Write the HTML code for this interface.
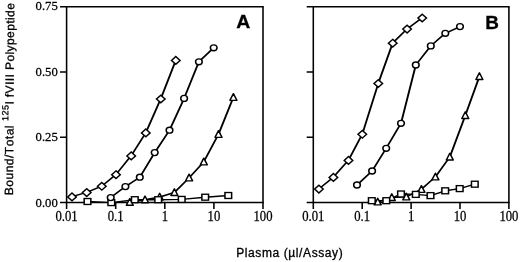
<!DOCTYPE html>
<html><head><meta charset="utf-8"><style>
html,body{margin:0;padding:0;background:#fff;}
body{width:520px;height:262px;overflow:hidden;font-family:"Liberation Sans",sans-serif;}
svg{display:block;will-change:transform;}
text{font-kerning:none;}
</style></head><body>
<svg width="520" height="262" viewBox="0 0 520 262">
<rect width="520" height="262" fill="#fff"/>
<g transform="scale(1.35,1)"><g fill="none" stroke="#000" stroke-width="1.2" stroke-linecap="butt">
<path stroke-width="1.35" d="M44.444 6.7H195.37M44.444 202.5H195.37M44.444 72.0H49.333M44.444 137.2H49.333"/><path stroke-width="1.15" d="M49.333 6.7V209.0M194.815 6.7V209.0M85.704 202.5V209.0M122.074 202.5V209.0M158.444 202.5V209.0"/>
<path stroke-width="1.35" d="M227.185 6.7H377.519M227.185 202.5H377.519M227.185 72.0H232.074M227.185 137.2H232.074"/><path stroke-width="1.15" d="M232.074 6.7V209.0M376.963 6.7V209.0M268.296 202.5V209.0M304.519 202.5V209.0M340.741 202.5V209.0"/>
</g>
<g fill="none" stroke="#000" stroke-width="1.4" stroke-linejoin="round">
<polyline points="96.148,202.2 107.407,199.7 118.296,197 129.185,192.5 140.074,177.8 150.963,161.8 161.852,134.3 172.889,97.3"/>
<polyline points="64.815,201.5 82.444,202.6 99.852,199.7 117.185,199.7 134.593,199.4 152.0,197.2 169.111,195.5"/>
<polyline points="82.0,197.6 92.889,186.6 103.556,177.2 114.593,152.6 125.556,130.2 136.37,98.4 147.333,61.8 158.296,47.8"/>
<polyline points="53.333,196.7 64.222,192.4 75.407,186.1 85.926,174.5 97.185,155.7 108.0,132.7 119.111,98.8 130.222,60.2"/>
<polyline points="279.778,201.9 290.222,197.5 300.963,196.9 312.148,189.3 322.519,176.9 333.185,157 344.667,115.5 355.111,76.5"/>
<polyline points="275.407,200.7 286.148,200.7 297.037,194 308.0,194.4 318.889,195.6 329.778,190.8 340.519,188.6 351.704,184.2"/>
<polyline points="264.444,185 275.63,171 286.074,148.3 297.037,123.3 308.0,65 319.111,45.9 329.852,33.3 340.741,26.6"/>
<polyline points="236.222,188.9 246.963,177.2 258.148,160.2 268.37,134.1 280.222,83.3 290.889,43 301.556,28.9 312.741,17.8"/>
</g>
</g><g transform="scale(1.12,1)"><g fill="#fff" stroke="#000" stroke-width="1.35" stroke-linejoin="miter">
<path stroke-linejoin="round" d="M115.893 198.5L118.993 205.2L112.793 205.2Z"/>
<path stroke-linejoin="round" d="M129.464 196.0L132.564 202.7L126.364 202.7Z"/>
<path stroke-linejoin="round" d="M142.589 193.3L145.689 200.0L139.489 200.0Z"/>
<path stroke-linejoin="round" d="M155.714 188.8L158.814 195.5L152.614 195.5Z"/>
<path stroke-linejoin="round" d="M168.839 174.10000000000002L171.939 180.8L165.739 180.8Z"/>
<path stroke-linejoin="round" d="M181.964 158.10000000000002L185.064 164.8L178.864 164.8Z"/>
<path stroke-linejoin="round" d="M195.089 130.60000000000002L198.189 137.3L191.989 137.3Z"/>
<path stroke-linejoin="round" d="M208.393 93.6L211.493 100.3L205.293 100.3Z"/>
<rect x="75.155" y="198.53" width="5.94" height="5.94"/>
<rect x="96.405" y="199.63" width="5.94" height="5.94"/>
<rect x="117.387" y="196.73" width="5.94" height="5.94"/>
<rect x="138.28" y="196.73" width="5.94" height="5.94"/>
<rect x="159.262" y="196.43" width="5.94" height="5.94"/>
<rect x="180.244" y="194.23" width="5.94" height="5.94"/>
<rect x="200.869" y="192.53" width="5.94" height="5.94"/>
<circle cx="98.839" cy="197.6" r="2.97"/>
<circle cx="111.964" cy="186.6" r="2.97"/>
<circle cx="124.821" cy="177.2" r="2.97"/>
<circle cx="138.125" cy="152.6" r="2.97"/>
<circle cx="151.339" cy="130.2" r="2.97"/>
<circle cx="164.375" cy="98.4" r="2.97"/>
<circle cx="177.589" cy="61.8" r="2.97"/>
<circle cx="190.804" cy="47.8" r="2.97"/>
<path d="M64.286 193.04999999999998L68.136 196.89999999999998L64.286 200.74999999999997L60.436 196.89999999999998Z"/>
<path d="M77.411 188.75L81.261 192.6L77.411 196.45L73.561 192.6Z"/>
<path d="M90.893 182.45L94.743 186.29999999999998L90.893 190.14999999999998L87.043 186.29999999999998Z"/>
<path d="M103.571 170.85L107.42099999999999 174.7L103.571 178.54999999999998L99.721 174.7Z"/>
<path d="M117.143 152.04999999999998L120.993 155.89999999999998L117.143 159.74999999999997L113.293 155.89999999999998Z"/>
<path d="M130.179 129.04999999999998L134.029 132.89999999999998L130.179 136.74999999999997L126.32900000000001 132.89999999999998Z"/>
<path d="M143.571 95.15L147.421 99.0L143.571 102.85L139.721 99.0Z"/>
<path d="M156.964 56.550000000000004L160.814 60.400000000000006L156.964 64.25L153.114 60.400000000000006Z"/>
<path stroke-linejoin="round" d="M337.232 198.20000000000002L340.33200000000005 204.9L334.132 204.9Z"/>
<path stroke-linejoin="round" d="M349.821 193.8L352.92100000000005 200.5L346.721 200.5Z"/>
<path stroke-linejoin="round" d="M362.768 193.20000000000002L365.868 199.9L359.66799999999995 199.9Z"/>
<path stroke-linejoin="round" d="M376.25 185.60000000000002L379.35 192.3L373.15 192.3Z"/>
<path stroke-linejoin="round" d="M388.75 173.20000000000002L391.85 179.9L385.65 179.9Z"/>
<path stroke-linejoin="round" d="M401.607 153.3L404.70700000000005 160.0L398.507 160.0Z"/>
<path stroke-linejoin="round" d="M415.446 111.8L418.54600000000005 118.5L412.346 118.5Z"/>
<path stroke-linejoin="round" d="M428.036 72.8L431.136 79.5L424.936 79.5Z"/>
<rect x="328.99399999999997" y="197.73" width="5.94" height="5.94"/>
<rect x="341.941" y="197.73" width="5.94" height="5.94"/>
<rect x="355.066" y="191.03" width="5.94" height="5.94"/>
<rect x="368.28" y="191.43" width="5.94" height="5.94"/>
<rect x="381.405" y="192.63" width="5.94" height="5.94"/>
<rect x="394.53" y="187.83" width="5.94" height="5.94"/>
<rect x="407.476" y="185.63" width="5.94" height="5.94"/>
<rect x="420.95899999999995" y="181.23" width="5.94" height="5.94"/>
<circle cx="318.75" cy="185" r="2.97"/>
<circle cx="332.232" cy="171" r="2.97"/>
<circle cx="344.821" cy="148.3" r="2.97"/>
<circle cx="358.036" cy="123.3" r="2.97"/>
<circle cx="371.25" cy="65" r="2.97"/>
<circle cx="384.643" cy="45.9" r="2.97"/>
<circle cx="397.589" cy="33.3" r="2.97"/>
<circle cx="410.714" cy="26.6" r="2.97"/>
<path d="M284.732 185.25L288.58200000000005 189.1L284.732 192.95L280.882 189.1Z"/>
<path d="M297.679 173.54999999999998L301.529 177.39999999999998L297.679 181.24999999999997L293.82899999999995 177.39999999999998Z"/>
<path d="M311.161 156.54999999999998L315.011 160.39999999999998L311.161 164.24999999999997L307.311 160.39999999999998Z"/>
<path d="M323.482 130.45L327.33200000000005 134.29999999999998L323.482 138.14999999999998L319.632 134.29999999999998Z"/>
<path d="M337.768 79.65L341.618 83.5L337.768 87.35L333.91799999999995 83.5Z"/>
<path d="M350.625 39.35L354.475 43.2L350.625 47.050000000000004L346.775 43.2Z"/>
<path d="M363.482 25.249999999999996L367.33200000000005 29.099999999999998L363.482 32.949999999999996L359.632 29.099999999999998Z"/>
<path d="M376.964 14.15L380.814 18.0L376.964 21.85L373.114 18.0Z"/>
</g></g>
<g font-family="Liberation Serif, serif" font-size="12.7px" fill="#000" stroke="#000" stroke-width="0.25">
<text transform="translate(57.8 10.0) scale(1 1.05)" text-anchor="end">0.75</text>
<text transform="translate(57.8 75.53) scale(1 1.05)" text-anchor="end">0.50</text>
<text transform="translate(57.8 140.97) scale(1 1.05)" text-anchor="end">0.25</text>
<text transform="translate(57.8 206.5) scale(1 1.05)" text-anchor="end">0.00</text>
<text transform="translate(66.6 220.9) scale(1 1.07)" text-anchor="middle">0.01</text>
<text transform="translate(115.7 220.9) scale(1 1.07)" text-anchor="middle">0.1</text>
<text transform="translate(164.8 220.9) scale(1 1.07)" text-anchor="middle">1</text>
<text transform="translate(213.9 220.9) scale(1 1.07)" text-anchor="middle">10</text>
<text transform="translate(263 220.9) scale(1 1.07)" text-anchor="middle">100</text>
<text transform="translate(313.3 220.9) scale(1 1.07)" text-anchor="middle">0.01</text>
<text transform="translate(362.2 220.9) scale(1 1.07)" text-anchor="middle">0.1</text>
<text transform="translate(411.1 220.9) scale(1 1.07)" text-anchor="middle">1</text>
<text transform="translate(460 220.9) scale(1 1.07)" text-anchor="middle">10</text>
<text transform="translate(508.9 220.9) scale(1 1.07)" text-anchor="middle">100</text>
</g>
<g font-family="Liberation Sans, sans-serif" fill="#000" stroke="#000" stroke-width="0.3">
<text transform="translate(236.2 27.8) scale(1.08 1)" font-size="18px" font-weight="bold">A</text>
<text transform="translate(485.3 28.7) scale(1.05 1)" font-size="18px" font-weight="bold">B</text>
<text x="236.2" y="256.8" font-size="12px" letter-spacing="0.6">Plasma (µl/Assay)</text>
<text transform="translate(12.95 195.2) rotate(-89.58)" font-size="12px" id="yl" letter-spacing="0.41"><tspan letter-spacing="0.5">Bound/Total </tspan><tspan letter-spacing="0.5" font-size="9px" dy="-5.2">125</tspan><tspan dy="5.2">I fVIII Polypeptide</tspan></text>
</g>
</svg>
</body></html>
